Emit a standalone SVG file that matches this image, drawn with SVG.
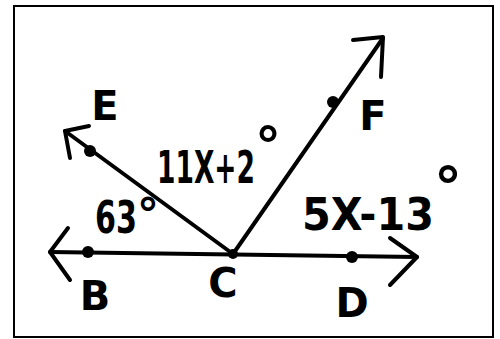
<svg xmlns="http://www.w3.org/2000/svg" width="500" height="339" viewBox="0 0 500 339">
<style>
.ln{stroke:#000;stroke-width:4;fill:none;stroke-linecap:round;stroke-linejoin:round}
.ah{stroke:#000;stroke-width:4;fill:none;stroke-linecap:round;stroke-linejoin:round}
.dot{fill:#000}
.lbl{font-family:"DejaVu Sans","Liberation Sans",sans-serif;font-size:40px;font-weight:bold;fill:#000}
.ang{font-family:"DejaVu Sans","Liberation Sans",sans-serif;font-size:44px;font-weight:bold;fill:#000}
</style>
<rect x="0" y="0" width="500" height="339" fill="#fff"/>
<rect x="14" y="6" width="479" height="331" fill="none" stroke="#000" stroke-width="2"/>
<g id="connectors">
<line class="ln" x1="50" y1="252" x2="417" y2="257"/>
<line class="ln" x1="233" y1="254" x2="65" y2="131"/>
<line class="ln" x1="233" y1="254" x2="383" y2="38" stroke-width="5"/>
<polyline class="ah" points="68,228 50,252 70,280"/>
<polyline class="ah" points="390,238 417,257 390,285"/>
<polyline class="ah" points="89,126 65,131 70,158"/>
<polyline class="ah" points="353,40 383,37 381,77"/>
</g>
<g id="node-B"><circle class="dot" cx="88" cy="252" r="6"/><text class="lbl" x="95" y="310" text-anchor="middle">B</text></g>
<g id="node-C"><circle class="dot" cx="233" cy="254" r="5"/><text class="lbl" x="223" y="297" text-anchor="middle" font-size="36">C</text></g>
<g id="node-D"><circle class="dot" cx="352" cy="257" r="6"/><text class="lbl" x="352" y="317" text-anchor="middle">D</text></g>
<g id="node-E"><circle class="dot" cx="90" cy="151" r="6"/><text class="lbl" x="105" y="120" text-anchor="middle">E</text></g>
<g id="node-F"><circle class="dot" cx="333" cy="102" r="6"/><text class="lbl" x="373" y="130" text-anchor="middle">F</text></g>
<g id="angle-labels">
<text class="ang" x="95" y="233"><tspan textLength="42" lengthAdjust="spacingAndGlyphs">63</tspan><tspan font-size="44" dy="-3">°</tspan></text>
<text class="ang" x="157" y="183"><tspan textLength="98" lengthAdjust="spacingAndGlyphs">11X+2</tspan><tspan font-size="52" dy="-19">°</tspan></text>
<text class="ang" x="302" y="230"><tspan textLength="132" lengthAdjust="spacingAndGlyphs">5X-13</tspan><tspan font-size="56" dy="-24">°</tspan></text>
</g>
</svg>
